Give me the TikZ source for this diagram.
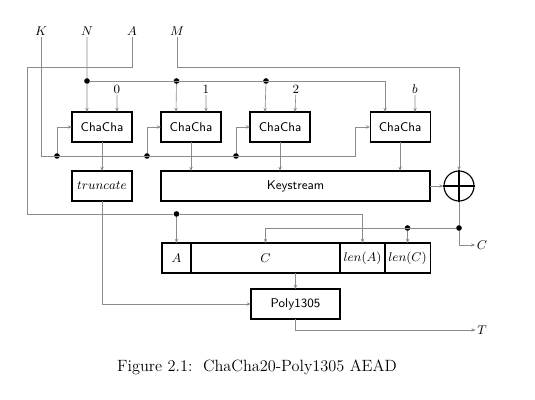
\documentclass[tikz,border=0pt]{standalone}
\usepackage{amsmath}
\usetikzlibrary{arrows.meta, positioning, calc}
\definecolor{wiregray}{HTML}{8C8C8C}
\tikzstyle{chabox}=[rectangle,draw,thick,minimum height=0.75cm,
  minimum width=1.5cm,font=\small\sffamily,inner sep=2pt,outer sep=0pt]
\tikzstyle{cell}=[rectangle,draw,thick,minimum height=0.75cm,
  font=\small,inner sep=1pt,outer sep=0pt,anchor=west]
\tikzstyle{joint}=[circle,fill,inner sep=0pt,minimum size=4pt]
\tikzstyle{wire}=[draw=wiregray,line width=0.45pt]
\tikzstyle{arr}=[wire,-{Stealth[length=3pt,width=2.4pt]}]
\tikzstyle{inlabel}=[inner sep=1pt,font=\small]

\begin{document}
\begin{tikzpicture}[x=0.025cm,y=-0.025cm,node distance=0.725cm and 0.725cm]
  \useasboundingbox (0,0) rectangle (535,400);
  % inputs
  \node[inlabel] (K) at (41,31) {$K$};
  \node[inlabel] (N) at (87,31) {$N$};
  \node[inlabel] (A) at (132,31) {$A$};
  \node[inlabel] (M) at (177,31) {$M$};
  % chacha blocks
  \node[chabox] (cc1) at (102,127) {ChaCha};
  \node[chabox,right=of cc1] (cc2) {ChaCha};
  \node[chabox,right=of cc2] (cc3) {ChaCha};
  \node[chabox,right=1.5cm of cc3] (cc4) {ChaCha};
  \node[chabox,below=of cc1,font=\small] (trunc) {$truncate$};
  \node[chabox,minimum width=6.725cm] (ks) at (295.5,186) {Keystream};
  \node[circle,draw,thick,minimum size=0.75cm,inner sep=0pt] (xor) at (459,186) {};
  \draw[thick] (xor.north) -- (xor.south) (xor.west) -- (xor.east);
  % counters
  \node[inlabel] (c0) at (117,89) {$0$};
  \node[inlabel] (c1) at (206,89) {$1$};
  \node[inlabel] (c2) at (296,89) {$2$};
  \node[inlabel] (cb) at (415,89) {$b$};
  % message row
  \node[cell,minimum width=0.725cm] (Acell) at (162,258) {$A$};
  \node[cell,minimum width=3.725cm] (Ccell) at (Acell.east) {$C$};
  \node[cell,minimum width=1.125cm] (lenA) at (Ccell.east) {$len(A)$};
  \node[cell,minimum width=1.125cm] (lenC) at (lenA.east) {$len(C)$};
  \node[chabox,minimum width=2.225cm] (poly) at (295.5,304) {Poly1305};
  % outputs
  \node[inlabel] (Cout) at (482,245) {$C$};
  \node[inlabel] (T) at (482,330) {$T$};
  % joints
  \node[joint] (kj1) at (57,156) {};
  \node[joint] (kj2) at (147,156) {};
  \node[joint] (kj3) at (236,156) {};
  \node[joint] (nj1) at (87,81) {};
  \node[joint] (nj2) at (176.5,81) {};
  \node[joint] (nj3) at (266,81) {};
  \node[joint] (aj) at (176.5,214) {};
  \node[joint] (xj) at (459,228) {};
  \node[joint] (cj) at (407.5,228) {};
  \coordinate (kturn) at (355,156);
  \coordinate (aleft) at (27,67);
  \coordinate (mturn) at (459,67);
  % key
  \draw[arr] (K) |- (kturn) |- (cc4.west);
  \draw[arr] (kj1) |- (cc1.west);
  \draw[arr] (kj2) |- (cc2.west);
  \draw[arr] (kj3) |- (cc3.west);
  % nonce
  \draw[arr] (N) -- (nj1) -- ($(cc1.north)!0.5!(cc1.north west)$);
  \draw[arr] (nj1) -| ($(cc4.north)!0.5!(cc4.north west)$);
  \draw[arr] (nj2) -- ($(cc2.north)!0.5!(cc2.north west)$);
  \draw[arr] (nj3) -- ($(cc3.north)!0.5!(cc3.north west)$);
  \draw[arr] (c0) -- ($(cc1.north)!0.5!(cc1.north east)$);
  \draw[arr] (c1) -- ($(cc2.north)!0.5!(cc2.north east)$);
  \draw[arr] (c2) -- ($(cc3.north)!0.5!(cc3.north east)$);
  \draw[arr] (cb) -- ($(cc4.north)!0.5!(cc4.north east)$);
  % keystream
  \draw[arr] (cc1) -- (trunc);
  \draw[arr] (cc2) -- (cc2 |- ks.north);
  \draw[arr] (cc3) -- (cc3 |- ks.north);
  \draw[arr] (cc4) -- (cc4 |- ks.north);
  \draw[arr] (ks) -- (xor);
  \draw[arr] (M) |- (mturn) -- (xor);
  % ciphertext
  \draw[wire] (xor) -- (xj);
  \draw[arr] (xj) |- (Cout);
  \draw[arr] (xj) -| (Ccell.north);
  \draw[arr] (cj) -- (lenC.north);
  % associated data
  \draw[arr] (A) |- (aleft) |- (aj) -| (lenA.north);
  \draw[arr] (aj) -- (Acell.north);
  % tag
  \draw[arr] (poly |- Ccell.south) -- (poly);
  \draw[arr] (trunc) |- (poly);
  \draw[arr] (poly) |- (T);
  \node[font=\fontsize{11.6}{14}\selectfont] (caption) at (257,367)
    {Figure 2.1:\ \ ChaCha20-Poly1305 AEAD};
\end{tikzpicture}
\end{document}
